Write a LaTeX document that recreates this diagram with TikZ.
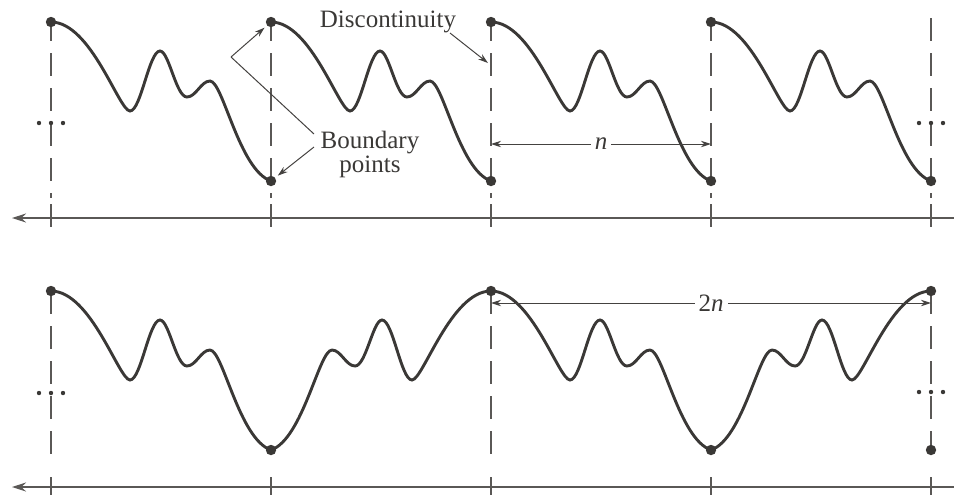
\documentclass[tikz,border=0pt]{standalone}
\usepackage{fontspec}
\setmainfont{Liberation Serif}
\usetikzlibrary{arrows.meta}
\definecolor{curvecol}{HTML}{3A3836}
\definecolor{guidecol}{HTML}{5A5856}
\definecolor{notecol}{HTML}{444240}
\definecolor{textcol}{HTML}{3A3836}
\newcommand\wavepath{(0,22) .. controls (40,22) and (68,111) .. (79,111)
  .. controls (90,111) and (98,51) .. (109,51)
  .. controls (118,51) and (125,97) .. (136,97)
  .. controls (145,97) and (150,81) .. (159,81)
  .. controls (172,81) and (188,170) .. (220,181)}
\begin{document}
\begin{tikzpicture}[x=0.5pt,y=-0.5pt,
  curve/.style={line width=1.45pt, color=curvecol, line cap=round},
  guide/.style={dash pattern=on 11.5pt off 6pt, line width=0.55pt, color=guidecol},
  tickline/.style={line width=0.55pt, color=guidecol},
  axisline/.style={line width=0.6pt, color=guidecol, -{Stealth[length=7pt,width=4.5pt]}},
  bdot/.style={circle, fill=curvecol, inner sep=0pt, minimum size=5.2pt},
  edot/.style={fill=curvecol},
  note/.style={line width=0.5pt, color=notecol},
  notearrow/.style={note, -{Stealth[length=5pt,width=3.2pt]}},
  dimarrow/.style={note, {Stealth[length=5pt,width=3.2pt]}-{Stealth[length=5pt,width=3.2pt]}},
  lbl/.style={font=\fontsize{12.5}{12}\selectfont, text=textcol}
]
\useasboundingbox (0,0) rectangle (954,495);

% ---------- top row ----------
\foreach \x in {51,271,491,711,931}{
  \draw[guide] (\x,18) -- (\x,198);
  \draw[tickline] (\x,204) -- (\x,227);
}
\coordinate (axr1) at (954,218);
\coordinate (axl1) at (12,218);
\draw[axisline] (axr1) -- (axl1);

\foreach \k in {0,1,2,3}{
  \draw[curve, shift={(51+220*\k,0)}] \wavepath;
}
\node[bdot] (t0a) at (51,22) {};
\node[bdot] (t1a) at (271,22) {};
\node[bdot] (t1b) at (271,181) {};
\node[bdot] (t2a) at (491,22) {};
\node[bdot] (t2b) at (491,181) {};
\node[bdot] (t3a) at (711,22) {};
\node[bdot] (t3b) at (711,181) {};
\node[bdot] (t4b) at (931,181) {};

\foreach \x in {39,51,63,919,931,943}{
  \fill[edot] (\x,123) circle (1.1pt);
}

% labels top
\node[lbl, anchor=base] (disc) at (388,27) {Discontinuity};
\coordinate (dstart) at (450,33);
\coordinate (dtgt) at (488,63);
\draw[notearrow] (dstart) -- (dtgt);

\node[lbl, align=center] (bnd) at (370,154) {Boundary\\points};
\coordinate (bl1) at (314,134);
\coordinate (bl2) at (314,147);
\coordinate (bk) at (231,57);
\draw[note] (bl1) -- (bk);
\draw[notearrow, shorten >=1.5pt] (bk) -- (t1a);
\draw[notearrow, shorten >=1.5pt] (bl2) -- (t1b);

\coordinate (n1) at (491,144);
\coordinate (n2) at (711,144);
\draw[dimarrow] (n1) -- node[lbl, fill=white, inner sep=2pt, font=\fontsize{12.5}{12}\selectfont\itshape] (nlab) {n} (n2);

% ---------- bottom row ----------
\foreach \x in {51,491,931}{
  \draw[guide] (\x,291) -- (\x,460);
}
\foreach \x in {51,271,491,711,931}{
  \draw[tickline] (\x,477) -- (\x,495);
}
\coordinate (axr2) at (954,487);
\coordinate (axl2) at (12,487);
\draw[axisline] (axr2) -- (axl2);

\draw[curve, shift={(51,269)}] \wavepath;
\draw[curve, shift={(491,269)}, xscale=-1] \wavepath;
\draw[curve, shift={(491,269)}] \wavepath;
\draw[curve, shift={(931,269)}, xscale=-1] \wavepath;

\node[bdot] (b0) at (51,291) {};
\node[bdot] (b1) at (271,450) {};
\node[bdot] (b2) at (491,291) {};
\node[bdot] (b3) at (711,450) {};
\node[bdot] (b4) at (931,291) {};
\node[bdot] (b5) at (931,450) {};

\foreach \x in {39,51,63}{
  \fill[edot] (\x,393) circle (1.1pt);
}
\foreach \x in {919,931,943}{
  \fill[edot] (\x,392) circle (1.1pt);
}

\coordinate (m1) at (491,303);
\coordinate (m2) at (931,303);
\draw[dimarrow] (m1) -- node[lbl, fill=white, inner sep=2pt, font=\fontsize{12.5}{12}\selectfont] (mlab) {2\textit{n}} (m2);

\end{tikzpicture}
\end{document}
